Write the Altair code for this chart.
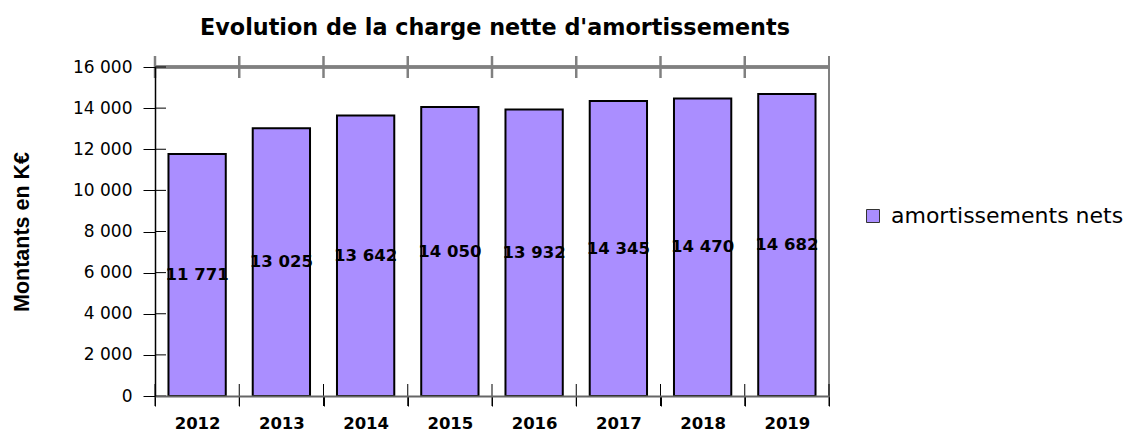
import altair as alt
import pandas as pd

years = ["2012", "2013", "2014", "2015", "2016", "2017", "2018", "2019"]
values = [11771, 13025, 13642, 14050, 13932, 14345, 14470, 14682]
series_name = "amortissements nets"
y_ticks = [0, 2000, 4000, 6000, 8000, 10000, 12000, 14000, 16000]

W, H = 674, 329
BAR_COLOR = "#aa8eff"
GRAY = "#808080"
FONT = "DejaVu Sans"

df = pd.DataFrame({"year": years, "value": values, "serie": [series_name] * len(years)})
ticks_df = pd.DataFrame({"v": y_ticks})
last_df = pd.DataFrame({"year": [years[-1]]})
years_df = pd.DataFrame({"year": years})

x_scale = alt.Scale(domain=years, paddingInner=0, paddingOuter=0)
y_scale = alt.Scale(domain=[0, 16000], nice=False)

fmt = "replace(format(datum.value, ','), ',', ' ')"

bars = alt.Chart(df).mark_bar(
    width=alt.RelativeBandSize(0.68), stroke="black", strokeWidth=2
).encode(
    x=alt.X("year:N", scale=x_scale, title=None,
            axis=alt.Axis(labelFont=FONT, labelFontSize=16.5, labelFontWeight="bold",
                          labelColor="black", labelAngle=0, labelPadding=9,
                          tickBand="extent", tickSize=10, tickColor="black", tickWidth=1,
                          domainColor="#666666", domainWidth=2, grid=False, zindex=1)),
    y=alt.Y("value:Q", scale=y_scale, title="Montants en K€",
            axis=alt.Axis(values=y_ticks, labelExpr=fmt, labelFont=FONT, labelFontSize=17,
                          labelColor="black", labelPadding=11, tickSize=12, tickColor="black",
                          tickWidth=1, domainColor="black", domainWidth=1.5, grid=False,
                          titleFont="Liberation Sans", titleFontSize=21.5,
                          titleFontWeight="bold", titleColor="black", titleAngle=-90,
                          titleX=-133, titleY=H / 2, titleBaseline="middle",
                          titleAlign="center", zindex=1)),
    color=alt.Color("serie:N", scale=alt.Scale(range=[BAR_COLOR]), title=None,
                    legend=alt.Legend(orient="none", legendX=707, legendY=138,
                                      symbolType="square", symbolSize=169,
                                      symbolStrokeColor="#333333", symbolStrokeWidth=1,
                                      symbolFillColor=BAR_COLOR, symbolOpacity=1,
                                      labelFont=FONT, labelFontSize=22, labelColor="black",
                                      labelOffset=7, padding=0, labelLimit=400)),
)

labels = alt.Chart(df).transform_calculate(
    mid="datum.value / 2", txt="replace(format(datum.value, ','), ',', ' ')"
).mark_text(font=FONT, fontSize=16.5, fontWeight="bold", color="black", baseline="middle").encode(
    x=alt.X("year:N", scale=x_scale),
    y=alt.Y("mid:Q", scale=y_scale),
    text="txt:N",
)

# y tick inward parts
ytick_in = alt.Chart(ticks_df).mark_rule(color="black", strokeWidth=1).encode(
    y=alt.Y("v:Q", scale=y_scale), x=alt.value(0), x2=alt.value(11)
)

# bottom crossing ticks at category boundaries
xtick_b = alt.Chart(years_df).mark_rule(color="black", strokeWidth=1).encode(
    x=alt.X("year:N", scale=x_scale, bandPosition=0), y=alt.value(H - 12), y2=alt.value(H + 10)
)
xtick_b_last = alt.Chart(last_df).mark_rule(color="black", strokeWidth=1).encode(
    x=alt.X("year:N", scale=x_scale, bandPosition=1), y=alt.value(H - 12), y2=alt.value(H + 10)
)

# top border and its ticks
top_line = alt.Chart(years_df).mark_rule(color=GRAY, strokeWidth=2.5).encode(
    x=alt.value(0), x2=alt.value(W), y=alt.value(0)
)
xtick_t = alt.Chart(years_df).mark_rule(color=GRAY, strokeWidth=2.5).encode(
    x=alt.X("year:N", scale=x_scale, bandPosition=0), y=alt.value(-11), y2=alt.value(11)
)
right_line = alt.Chart(last_df).mark_rule(color=GRAY, strokeWidth=2).encode(
    x=alt.value(W), y=alt.value(-11), y2=alt.value(H)
)

chart = alt.layer(
    bars, top_line, right_line, xtick_t, ytick_in, xtick_b, xtick_b_last, labels
).properties(
    width=W, height=H,
    title=alt.TitleParams("Evolution de la charge nette d'amortissements", font=FONT,
                          fontSize=22.3, fontWeight="bold", color="black", anchor="middle",
                          offset=15, dx=3),
    autosize=alt.AutoSizeParams(type="none"),
    padding={"left": 147, "top": 59, "right": 294, "bottom": 35},
).configure_view(stroke=None).configure(background="white")

chart.save("out.html", embed_options={"renderer": "svg", "actions": False})
